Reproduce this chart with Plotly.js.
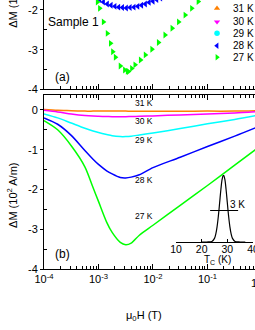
<!DOCTYPE html>
<html><head><meta charset="utf-8">
<script src="https://cdn.plot.ly/plotly-3.0.1.min.js"></script>
<style>html,body{margin:0;padding:0;background:#fff}</style>
</head><body><div id="chart" style="width:255px;height:330px"></div>
<script>
// ---------- data ----------
const seriesNames = ['31 K', '30 K', '29 K', '28 K', '27 K'];
const seriesColors = ['#ff8000', '#ff00ff', '#00ffff', '#0000ff', '#00ff00'];
const seriesSymbols = ['triangle-up', 'triangle-down', 'circle', 'triangle-left', 'triangle-right'];

// panel (b): fitted curves, field in tesla
const fieldB = [1e-4, 1.78e-4, 3.16e-4, 5.62e-4, 7.94e-4, 1e-3, 1.41e-3, 1.78e-3, 2.51e-3, 3.16e-3, 3.98e-3, 5.62e-3, 1e-2, 3.16e-2, 0.1, 0.316, 0.794];
const curve31K = [0.01, -0.01, -0.02, -0.03, -0.03, -0.03, -0.03, -0.03, -0.03, -0.03, -0.035, -0.035, -0.035, -0.035, -0.03, -0.03, -0.02];
const curve30K = [-0.01, -0.05, -0.10, -0.14, -0.155, -0.16, -0.165, -0.17, -0.17, -0.17, -0.165, -0.16, -0.15, -0.125, -0.10, -0.075, -0.045];
const curve29K = [-0.10, -0.20, -0.33, -0.46, -0.53, -0.57, -0.62, -0.65, -0.67, -0.67, -0.66, -0.63, -0.58, -0.47, -0.35, -0.24, -0.14];
const curve28K = [-0.20, -0.36, -0.64, -1.02, -1.24, -1.37, -1.53, -1.61, -1.70, -1.71, -1.69, -1.63, -1.45, -1.19, -0.92, -0.66, -0.44];
const curve27K = [-0.27, -0.50, -0.90, -1.43, -1.95, -2.30, -2.82, -3.08, -3.33, -3.39, -3.35, -3.15, -2.90, -2.40, -1.90, -1.39, -0.98];

// panel (a): measured points (only the visible part of 28 K and 27 K)
const field28Ka = [9.1e-4, 1.05e-3, 1.23e-3, 1.45e-3, 1.70e-3, 2.0e-3, 2.34e-3, 2.75e-3, 3.24e-3, 3.8e-3, 4.47e-3, 5.25e-3, 6.17e-3, 7.24e-3, 8.5e-3, 1.0e-2, 1.17e-2, 1.38e-2];
const points28Ka = [-1.70, -1.74, -1.80, -1.85, -1.88, -1.91, -1.93, -1.94, -1.95, -1.94, -1.93, -1.91, -1.88, -1.85, -1.81, -1.78, -1.74, -1.70];
const field27Ka = [8.7e-4, 9.55e-4, 1.05e-3, 1.23e-3, 1.45e-3, 1.66e-3, 1.82e-3, 2.04e-3, 2.51e-3, 3.02e-3, 3.39e-3, 3.55e-3, 4.07e-3, 4.68e-3, 5.89e-3, 7.24e-3, 9.55e-3, 1.26e-2, 1.66e-2, 2.24e-2, 2.95e-2, 3.89e-2, 5.13e-2, 6.76e-2];
const points27Ka = [-1.60, -1.80, -1.96, -2.30, -2.59, -2.84, -3.05, -3.19, -3.41, -3.51, -3.54, -3.55, -3.47, -3.38, -3.26, -3.13, -2.99, -2.82, -2.63, -2.46, -2.30, -2.13, -1.96, -1.79];

// inset: Tc distribution
const tcValues = [20, 22, 24, 25, 25.5, 26, 26.5, 27, 27.5, 28, 28.5, 29, 29.5, 30, 30.5, 31, 31.5, 32, 33, 35, 37];
const tcWeight = [0, 0, 0.008, 0.054, 0.117, 0.226, 0.386, 0.585, 0.788, 0.942, 1.0, 0.942, 0.788, 0.585, 0.386, 0.226, 0.117, 0.054, 0.008, 0, 0];
const fwhmT = [23.3, 34.2];
const fwhmLevel = [0.47, 0.47];

// axis ticks
const xMajor = [1e-4, 1e-3, 1e-2, 1e-1, 1];
const xMajorText = ['10<sup>-4</sup>', '10<sup>-3</sup>', '10<sup>-2</sup>', '10<sup>-1</sup>', '10<sup>0</sup>'];
const xMinor = [];
[1e-4, 1e-3, 1e-2, 1e-1].forEach(d => { for (let k = 2; k <= 9; k++) xMinor.push(d * k); });
const yaMajor = [-2, -3, -4], yaText = ['-2', '-3', '-4'];
const yaMinor = [-2.5, -3.5];
const ybMajor = [0, -1, -2, -3, -4], ybText = ['0', '-1', '-2', '-3', '-4'];
const ybMinor = [-0.5, -1.5, -2.5, -3.5];
const tcTicks = [10, 20, 30, 40];

// legend key positions (paper fractions)
const legX = 0.82, legTextX = 0.886;
const legY = [0.969, 0.919, 0.876, 0.830, 0.787];

// ---------- build ----------
const FONT = 'Arial, "Liberation Sans", sans-serif';
const bCurves = [curve31K, curve30K, curve29K, curve28K, curve27K];
const traces = [];
bCurves.forEach((c, i) => traces.push({
  x: fieldB, y: c, xaxis: 'x2', yaxis: 'y2', type: 'scatter', mode: 'lines',
  line: {color: seriesColors[i], width: 1.5, shape: 'spline', smoothing: 0.8}, hoverinfo: 'skip'
}));
traces.push({x: field28Ka, y: points28Ka, xaxis: 'x', yaxis: 'y', type: 'scatter', mode: 'markers',
  marker: {symbol: seriesSymbols[3], color: seriesColors[3], size: 6}});
traces.push({x: field27Ka, y: points27Ka, xaxis: 'x', yaxis: 'y', type: 'scatter', mode: 'markers',
  marker: {symbol: seriesSymbols[4], color: seriesColors[4], size: 6}});
traces.push({x: tcValues, y: tcWeight, xaxis: 'x3', yaxis: 'y3', type: 'scatter', mode: 'lines',
  line: {color: '#000', width: 1.2, shape: 'spline'}});
traces.push({x: fwhmT, y: fwhmLevel, xaxis: 'x3', yaxis: 'y3', type: 'scatter', mode: 'lines',
  line: {color: '#000', width: 1}});
traces.push({x: seriesNames.map(() => legX), y: legY, xaxis: 'x4', yaxis: 'y4', type: 'scatter', mode: 'markers',
  marker: {symbol: seriesSymbols, color: seriesColors, size: 5.5}, cliponaxis: false});

const logAxis = (anchor, showLabels) => ({
  type: 'log', anchor: anchor, domain: [0, 1], range: [-4, -0.128],
  showline: true, linecolor: '#000', linewidth: 1, showgrid: false, zeroline: false,
  ticks: 'inside', ticklen: 5, tickcolor: '#000', tickmode: 'array', tickvals: xMajor, ticktext: xMajorText,
  showticklabels: showLabels, ticklabeloverflow: 'allow', tickfont: {family: FONT, size: 11, color: '#000'},
  minor: {tickmode: 'array', tickvals: xMinor, ticks: 'inside', ticklen: 3, tickcolor: '#000'}
});
const linAxis = (anchor, dom, rng, vals, txt, minor) => ({
  anchor: anchor, domain: dom, range: rng, showline: true, linecolor: '#000', linewidth: 1,
  showgrid: false, zeroline: false, ticks: 'outside', ticklen: 3, tickcolor: '#000',
  tickmode: 'array', tickvals: vals, ticktext: txt, tickfont: {family: FONT, size: 11, color: '#000'},
  minor: {tickmode: 'array', tickvals: minor, ticks: 'inside', ticklen: 3, tickcolor: '#000'}
});

const xb = logAxis('y2', true); xb.mirror = 'ticks';
const ann = (text, x, y, size, extra) => Object.assign({text: text, x: x, y: y, xref: 'paper', yref: 'paper',
  xanchor: 'center', yanchor: 'middle', showarrow: false, font: {family: FONT, size: size, color: '#000'}}, extra || {});

const annotations = [
  ann('ΔM (10<sup>2</sup> A/m)', -0.152, 1.019, 11, {textangle: -90}),
  ann('ΔM (10<sup>2</sup> A/m)', -0.152, 0.275, 11, {textangle: -90}),
  ann('Sample 1', 0.142, 0.918, 12),
  ann('(a)', 0.087, 0.714, 12),
  ann('(b)', 0.087, 0.056, 12),
  ann('μ<sub>0</sub>H (T)', 0.474, -0.175, 11),
  ann('10<sup>0</sup>', 1.019, -0.048, 11),
  ann('3 K', 0.915, 0.240, 10),
  ann('T<sub>C</sub> (K)', 0.822, 0.033, 10),
  ann('31 K', 0.4716, 0.617, 8.5),
  ann('30 K', 0.4716, 0.550, 8.5),
  ann('29 K', 0.4716, 0.4814, 8.5),
  ann('28 K', 0.4716, 0.3327, 8.5),
  ann('27 K', 0.4716, 0.197, 8.5)
];
seriesNames.forEach((n, i) => annotations.push(ann(n, legTextX, legY[i], 10, {xanchor: 'left'})));

const layout = {
  width: 255, height: 330, margin: {l: 44, r: 0, t: 0, b: 61},
  paper_bgcolor: '#fff', plot_bgcolor: 'rgba(0,0,0,0)', showlegend: false,
  font: {family: FONT, size: 11, color: '#000'},
  xaxis: logAxis('y', false),
  yaxis: linAxis('x', [0.6673, 1], [-4, -1.75], yaMajor, yaText, yaMinor),
  xaxis2: xb,
  yaxis2: linAxis('x2', [0, 0.6468], [-4, 0.375], ybMajor, ybText, ybMinor),
  xaxis3: {anchor: 'y3', domain: [0.6256, 0.9905], range: [10, 40], showline: true, linecolor: '#000', linewidth: 1,
    showgrid: false, zeroline: false, ticks: 'inside', ticklen: 3, tickcolor: '#000', tickmode: 'array',
    tickvals: tcTicks, ticklabeloverflow: 'allow', ticklabelstandoff: -3,
    tickfont: {family: FONT, size: 10.5, color: '#000'}},
  yaxis3: {anchor: 'x3', domain: [0.1004, 0.3494], range: [0, 1], visible: false},
  xaxis4: {anchor: 'y4', domain: [0, 1], range: [0, 1], visible: false},
  yaxis4: {anchor: 'x4', domain: [0, 1], range: [0, 1], visible: false},
  annotations: annotations
};
Plotly.newPlot('chart', traces, layout, {staticPlot: true, displayModeBar: false});
</script></body></html>
